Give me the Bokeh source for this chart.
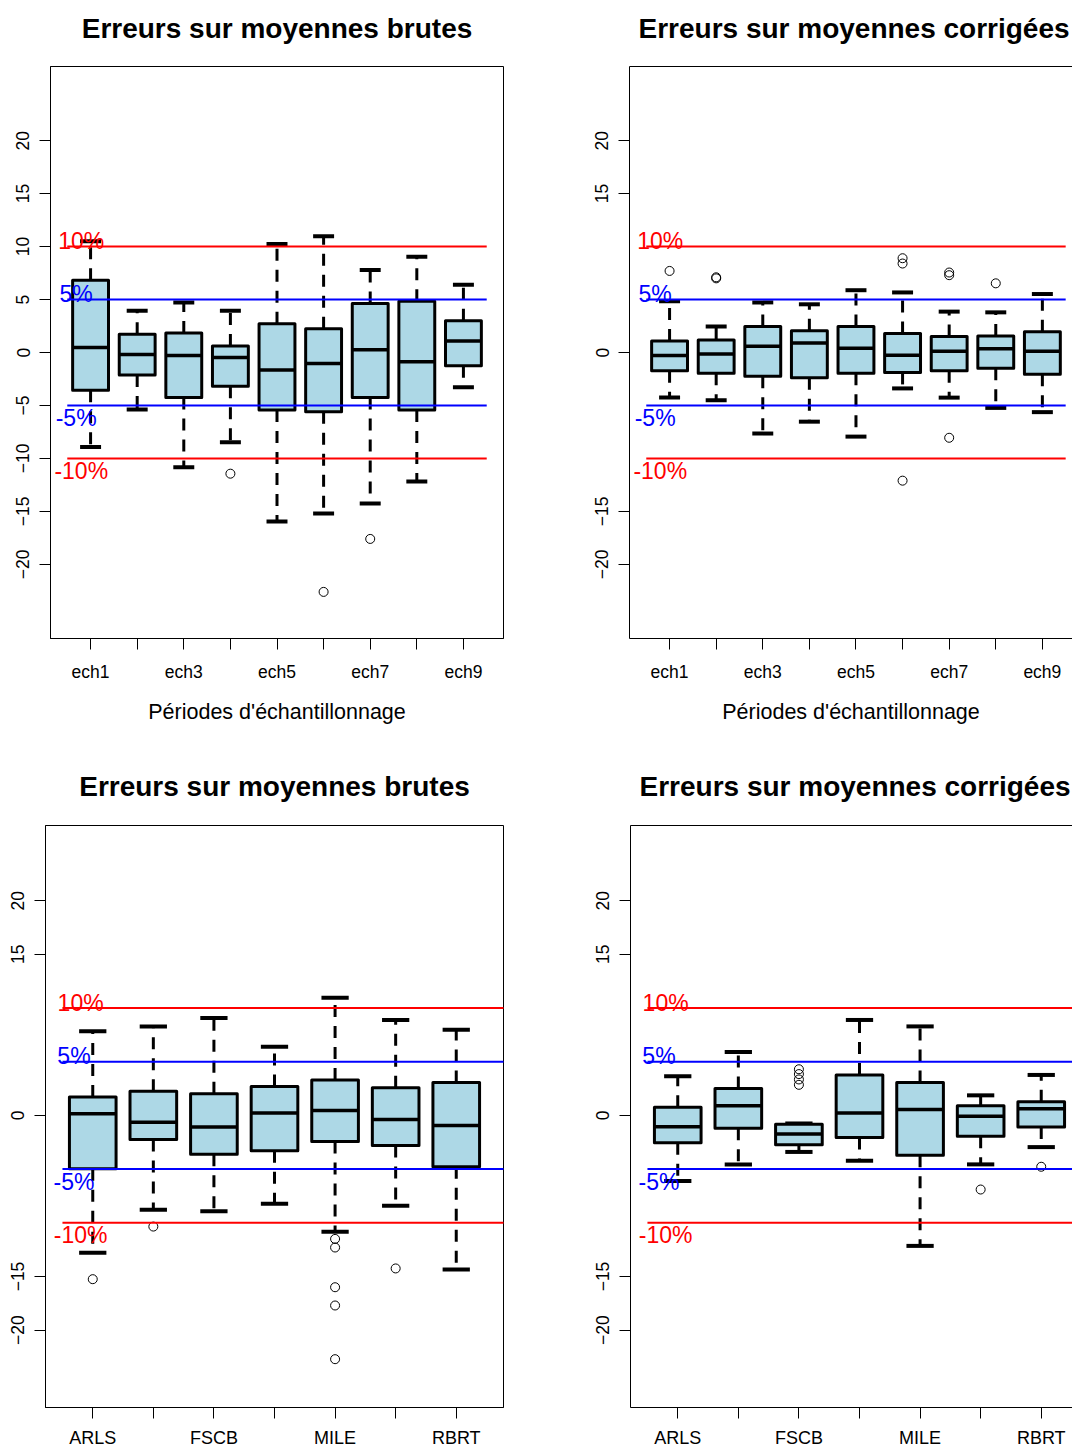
from bokeh.plotting import figure
from bokeh.models import ColumnDataSource, FixedTicker, LinearAxis, Range1d, Title
from bokeh.layouts import column, row
from bokeh.embed import file_html
from bokeh.resources import INLINE
from bokeh.core.properties import value

FONT = "Liberation Sans"

# ---------------- data ----------------
periods = ["ech1", "ech2", "ech3", "ech4", "ech5", "ech6", "ech7", "ech8", "ech9"]
sites = ["ARLS", "", "FSCB", "", "MILE", "", "RBRT"]

# Top-left: errors on raw means, by sampling period
tl_hi = [10.5, 3.93, 4.73, 3.93, 10.25, 10.97, 7.8, 9.03, 6.39]
tl_q3 = [6.82, 1.73, 1.84, 0.61, 2.71, 2.24, 4.62, 4.84, 3.0]
tl_med = [0.47, -0.18, -0.29, -0.47, -1.66, -1.05, 0.25, -0.87, 1.08]
tl_q1 = [-3.57, -2.13, -4.26, -3.18, -5.42, -5.6, -4.26, -5.42, -1.26]
tl_lo = [-8.92, -5.38, -10.83, -8.48, -15.96, -15.2, -14.26, -12.17, -3.29]
tl_out_x = [4, 6, 7]
tl_out_y = [-11.44, -22.6, -17.6]

# Top-right: errors on corrected means, by sampling period
tr_hi = [4.84, 2.45, 4.73, 4.55, 5.88, 5.67, 3.86, 3.79, 5.52]
tr_q3 = [1.08, 1.19, 2.45, 2.06, 2.45, 1.8, 1.52, 1.55, 1.95]
tr_med = [-0.29, -0.14, 0.58, 0.9, 0.4, -0.25, 0.11, 0.36, 0.11]
tr_q1 = [-1.73, -1.95, -2.24, -2.38, -1.95, -1.88, -1.73, -1.48, -2.06]
tr_lo = [-4.26, -4.51, -7.65, -6.53, -7.94, -3.39, -4.26, -5.23, -5.63]
tr_out_x = [1, 2, 2, 6, 6, 6, 7, 7, 7, 8]
tr_out_y = [7.7, 7.1, 7.0, 8.9, 8.4, -12.1, 7.55, 7.3, -8.05, 6.53]

# Bottom-left: errors on raw means, by site
bl_hi = [7.85, 8.29, 9.07, 6.39, 10.95, 8.89, 7.99]
bl_q3 = [1.72, 2.24, 2.02, 2.69, 3.29, 2.58, 3.06]
bl_med = [0.15, -0.63, -1.08, 0.22, 0.45, -0.37, -0.93]
bl_q1 = [-4.97, -2.24, -3.62, -3.29, -2.43, -2.8, -4.78]
bl_lo = [-12.8, -8.78, -8.92, -8.22, -10.83, -8.4, -14.36]
bl_out_x = [1, 2, 5, 5, 5, 5, 5, 6]
bl_out_y = [-15.25, -10.35, -11.5, -12.3, -16.0, -17.7, -22.7, -14.25]

# Bottom-right: errors on corrected means, by site
br_hi = [3.66, 5.9, -0.75, 8.89, 8.29, 1.87, 3.77]
br_q3 = [0.75, 2.5, -0.82, 3.77, 3.06, 0.9, 1.27]
br_med = [-1.05, 0.9, -1.72, 0.22, 0.56, -0.07, 0.63]
br_q1 = [-2.54, -1.19, -2.73, -2.05, -3.7, -1.94, -1.08]
br_lo = [-6.1, -4.56, -3.4, -4.22, -12.15, -4.56, -2.95]
br_out_x = [3, 3, 3, 3, 6, 7]
br_out_y = [4.3, 3.85, 3.35, 2.85, -6.9, -4.78]

rule_values = [10, 5, -5, -10]
rule_colors = ["#FF0000", "#0000FF", "#0000FF", "#FF0000"]
rule_texts = ["10%", "5%", "-5%", "-10%"]
rule_text_x = [0.8, 0.69, 0.69, 0.8]

ticks_full = [-20, -15, -10, -5, 0, 5, 10, 15, 20]
ticks_sparse = [-20, -15, 0, 15, 20]

BOXW = 0.77
CAPW = 0.45


def panel(title, labels, hi, q3, med, q1, lo, out_x, out_y, *, width, height,
          left, top, frame_w, frame_h, x0, x1, title_align, title_offset, title_standoff,
          y0, y1, yticks, full_box, xlabel=None, xlab_size="17.5px", xlab_standoff=12,
          rule_end=None, margin=0):
    n = len(labels)
    pos = list(range(1, n + 1))
    p = figure(width=width, height=height,
               x_range=Range1d(x0, x1), y_range=Range1d(y0, y1),
               output_backend="svg", toolbar_location=None, tools="",
               min_border_left=left, min_border_right=width - left - frame_w,
               min_border_top=top, min_border_bottom=height - top - frame_h,
               margin=(margin, 0, 0, 0))
    p.grid.visible = False
    p.background_fill_color = "white"
    p.border_fill_color = "white"
    p.outline_line_color = "black" if full_box else None
    p.outline_line_width = 1

    p.title = Title(text=title, align=title_align, offset=title_offset,
                    vertical_align="top", text_font=FONT,
                    text_font_size="28px", text_font_style="bold",
                    text_color="black", standoff=title_standoff)

    # y axis
    ya = p.yaxis[0]
    ya.ticker = FixedTicker(ticks=yticks)
    ya.major_label_orientation = "vertical"
    ya.major_label_text_font = FONT
    ya.major_label_text_font_size = "17.5px"
    ya.major_label_text_color = "black"
    ya.major_label_standoff = 10
    ya.major_tick_in = 0
    ya.major_tick_out = 11
    ya.minor_tick_line_color = None
    ya.axis_line_color = "black"
    ya.major_tick_line_color = "black"

    # x axis: labelled ticks on odd positions, unlabelled ticks in between
    xa = p.xaxis[0]
    odd = [i for i in pos if i % 2 == 1]
    even = [i for i in pos if i % 2 == 0]
    xa.ticker = FixedTicker(ticks=odd, minor_ticks=even)
    xa.major_label_overrides = {i: labels[i - 1] for i in odd}
    xa.major_tick_in = 0
    xa.major_tick_out = 11
    xa.minor_tick_in = 0
    xa.minor_tick_out = 11
    xa.minor_tick_line_color = "black"
    xa.axis_line_color = "black"
    xa.major_tick_line_color = "black"
    xa.major_label_text_font = FONT
    xa.major_label_text_color = "black"
    xa.major_label_text_font_size = xlab_size
    xa.major_label_standoff = xlab_standoff
    if xlabel:
        xa.axis_label = xlabel
        xa.axis_label_text_font = FONT
        xa.axis_label_text_font_size = "21.5px"
        xa.axis_label_text_font_style = "normal"
        xa.axis_label_text_color = "black"
        xa.axis_label_standoff = 15

    if not full_box:
        top_ax = LinearAxis(ticker=FixedTicker(ticks=[]), major_tick_out=0, major_tick_in=0,
                            minor_tick_line_color=None, major_label_standoff=0,
                            axis_line_color="black")
        p.add_layout(top_ax, "above")

    src = ColumnDataSource(dict(
        x=pos, hi=hi, q3=q3, med=med, q1=q1, lo=lo,
        left=[x - BOXW / 2 for x in pos], right=[x + BOXW / 2 for x in pos],
        cl=[x - CAPW / 2 for x in pos], cr=[x + CAPW / 2 for x in pos],
    ))
    # whiskers (dashed)
    p.segment(x0="x", y0="q3", x1="x", y1="hi", source=src, line_color="black",
              line_width=3, line_dash="12 9")
    p.segment(x0="x", y0="q1", x1="x", y1="lo", source=src, line_color="black",
              line_width=3, line_dash="12 9")
    # staples
    p.segment(x0="cl", y0="hi", x1="cr", y1="hi", source=src, line_color="black", line_width=4)
    p.segment(x0="cl", y0="lo", x1="cr", y1="lo", source=src, line_color="black", line_width=4)
    # boxes
    p.quad(left="left", right="right", bottom="q1", top="q3", source=src,
           fill_color="#ADD8E6", line_color="black", line_width=3, line_join="round")
    p.segment(x0="left", y0="med", x1="right", y1="med", source=src,
              line_color="black", line_width=3.5)
    # outliers
    p.scatter(x=out_x, y=out_y, marker="circle", size=9, fill_color=None,
              line_color="black", line_width=1)

    # reference lines at +-5 % and +-10 %
    rend = rule_end if rule_end is not None else n + 0.5
    rsrc = ColumnDataSource(dict(y=rule_values, c=rule_colors, t=rule_texts, tx=rule_text_x,
                                 x0=[0.5] * 4, x1=[rend] * 4, yo=[-5.5, -5.5, 12.5, 12.5]))
    p.segment(x0="x0", x1="x1", y0="y", y1="y", line_color="c", line_width=2, source=rsrc)
    p.text(x="tx", y="y", text="t", text_color="c", y_offset="yo", source=rsrc,
           text_align="center", text_baseline="middle",
           text_font=value(FONT), text_font_size="23px")
    return p


SHIFT = 8
H1 = 748 + SHIFT
H2 = 702
WL = 566
WR = 506

tl = panel("Erreurs sur moyennes brutes", periods, tl_hi, tl_q3, tl_med, tl_q1, tl_lo,
           tl_out_x, tl_out_y, width=WL, height=H1, left=50, top=66 + SHIFT,
           frame_w=453, frame_h=572,
           x0=0.14, x1=9.86, title_align="center", title_offset=0, title_standoff=41,
           y0=-27, y1=27, yticks=ticks_full, full_box=True,
           xlabel="Périodes d'échantillonnage", margin=-SHIFT)
tr = panel("Erreurs sur moyennes corrigées", periods, tr_hi, tr_q3, tr_med, tr_q1, tr_lo,
           tr_out_x, tr_out_y, width=WR, height=H1, left=63, top=66 + SHIFT,
           frame_w=443, frame_h=572,
           x0=0.14, x1=0.14 + 443 / 46.6, title_align="left", title_offset=9,
           title_standoff=41, y0=-27, y1=27, yticks=ticks_sparse,
           full_box=False, xlabel="Périodes d'échantillonnage", margin=-SHIFT)
bl = panel("Erreurs sur moyennes brutes", sites, bl_hi, bl_q3, bl_med, bl_q1, bl_lo,
           bl_out_x, bl_out_y, width=WL, height=H2, left=45, top=77, frame_w=458, frame_h=582,
           x0=0.22, x1=7.78, title_align="center", title_offset=0, title_standoff=44,
           y0=-27.2, y1=27.0, yticks=ticks_sparse,
           full_box=True, xlab_size="18px", xlab_standoff=9, rule_end=8.5)
br = panel("Erreurs sur moyennes corrigées", sites, br_hi, br_q3, br_med, br_q1, br_lo,
           br_out_x, br_out_y, width=WR, height=H2, left=64, top=77, frame_w=442, frame_h=582,
           x0=0.22, x1=0.22 + 442 / 60.58, title_align="left", title_offset=9,
           title_standoff=44, y0=-27.2, y1=27.0,
           yticks=ticks_sparse, full_box=False, xlab_size="18px", xlab_standoff=9,
           rule_end=8.5)

layout = column(row(tl, tr), row(bl, br))
open("out.html", "w").write(file_html(layout, INLINE))
